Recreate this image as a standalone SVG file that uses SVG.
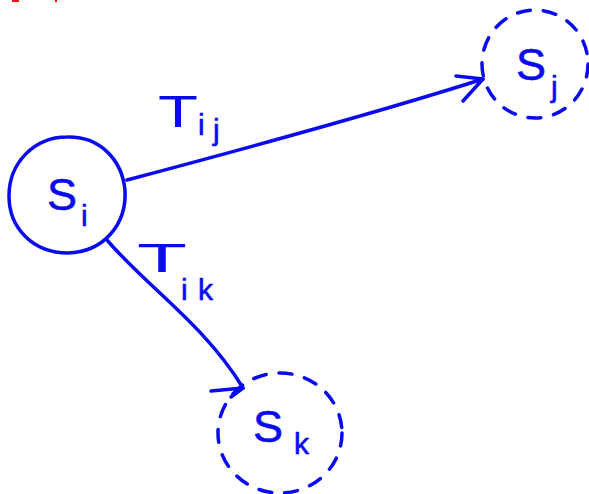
<svg xmlns="http://www.w3.org/2000/svg" width="589" height="494" viewBox="0 0 589 494">
<style>
.pen{fill:none;stroke:#0a0aee;stroke-width:3.5;stroke-linecap:round;stroke-linejoin:round}
.dash{stroke-dasharray:13 13}
.lbl{font-family:"Liberation Sans",Arial,sans-serif;fill:#0a0aee;stroke:#0a0aee;stroke-width:0.6}
.big{font-size:45px}
.sub{font-size:30px}
.tee{stroke-width:0}
</style>
<rect width="589" height="494" fill="#ffffff"/>
<g id="clipped-title" fill="#ff1010">
<rect x="12" y="0" width="7" height="2"/>
<rect x="55" y="0" width="2" height="2"/>
</g>
<g id="node-si">
<path class="pen" d="M67,137 C100,136 122,160 125,190 C127,225 103,252 68,253 C33,253 9,228 9,196 C9,163 34,137 67,137 Z"/>
<text class="lbl big" x="47" y="210">S</text>
<text class="lbl sub" x="81" y="226">i</text>
</g>
<g id="node-sj">
<ellipse class="pen dash" cx="535" cy="64" rx="53" ry="54"/>
<text class="lbl big" x="516" y="80">S</text>
<text class="lbl sub" x="551" y="97">j</text>
</g>
<g id="node-sk">
<ellipse class="pen dash" cx="280" cy="433" rx="62" ry="60"/>
<text class="lbl big" x="253" y="442">S</text>
<text class="lbl sub" x="294" y="454">k</text>
</g>
<g id="connectors">
<g id="edge-ij">
<path class="pen" d="M127,180 C240,150 380,112 483,79"/>
<path class="pen" d="M456,76 L483,79 L463,101"/>
<text class="lbl big tee" x="158" y="127" textLength="40" lengthAdjust="spacingAndGlyphs">T</text>
<text class="lbl sub" x="198" y="135">i</text>
<text class="lbl sub" x="213" y="140">j</text>
</g>
<g id="edge-ik">
<path class="pen" d="M107,240 C145,285 205,325 243,388"/>
<path class="pen" d="M211,391 L243,388 L231,397"/>
<text class="lbl tee" style="font-size:40px" x="137" y="272" textLength="50" lengthAdjust="spacingAndGlyphs">T</text>
<text class="lbl sub" x="181" y="300">i</text>
<text class="lbl sub" x="198" y="300">k</text>
</g>
</g>
</svg>
